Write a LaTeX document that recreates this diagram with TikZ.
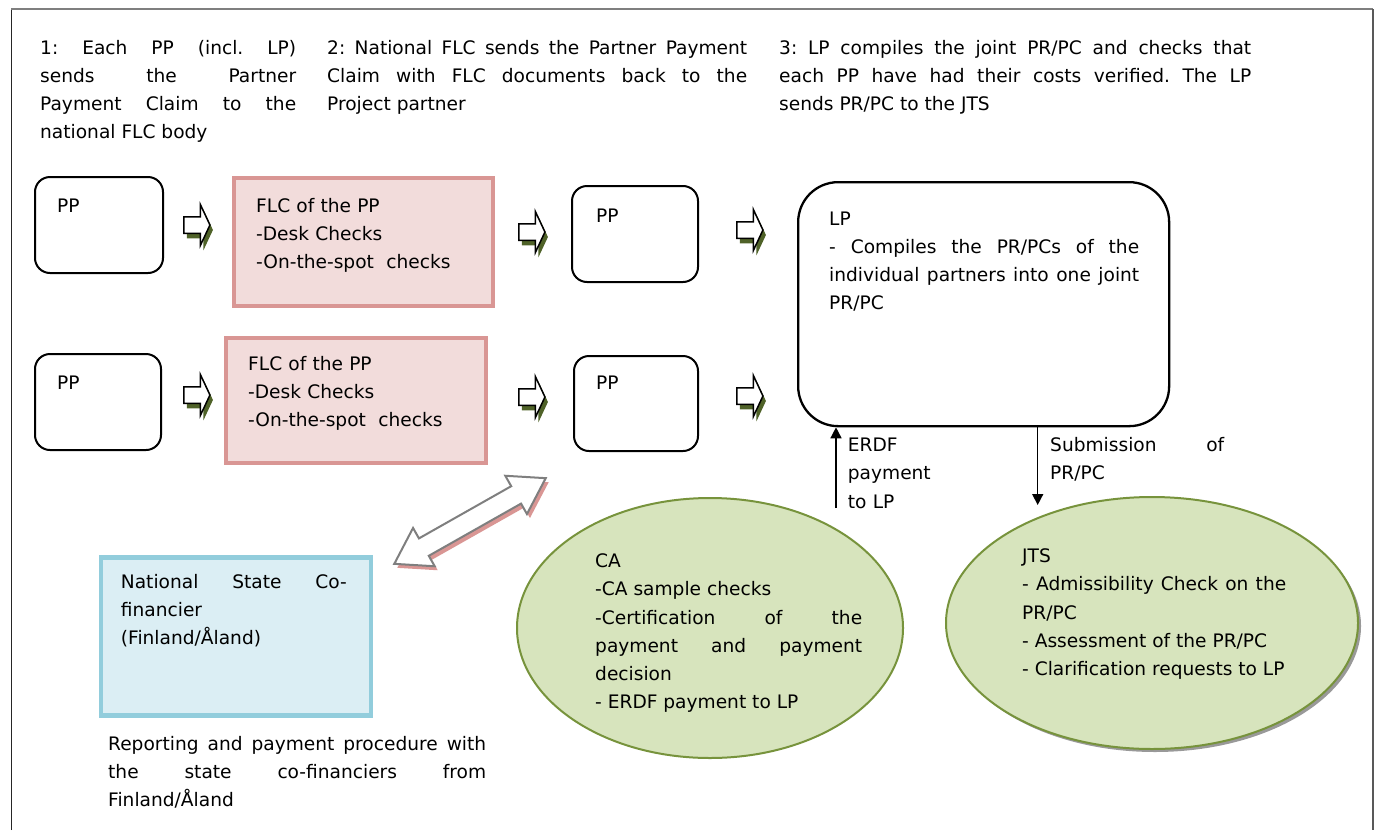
\documentclass[tikz,border=0pt]{standalone}
\usepackage{fontspec}
\setmainfont{DejaVu Sans}
\usepackage{tikz}
\usetikzlibrary{shapes.geometric,shapes.arrows,shadows,arrows.meta,calc}
\definecolor{flcFill}{HTML}{F2DCDB}
\definecolor{flcLine}{HTML}{D99694}
\definecolor{ncfFill}{HTML}{DBEEF4}
\definecolor{ncfLine}{HTML}{92CDDC}
\definecolor{caFill}{HTML}{D7E4BD}
\definecolor{caLine}{HTML}{77933C}
\definecolor{darkOlive}{HTML}{4F6228}
\definecolor{frameGray}{HTML}{7F7F7F}
\tolerance=10000 \hyphenpenalty=10000 \exhyphenpenalty=10000 \frenchspacing
\tikzset{
  ppbox/.style={draw,line width=2pt,rounded corners=15pt,inner sep=0pt,anchor=north west},
  flcbox/.style={draw=flcLine,fill=flcFill,line width=3.5pt,inner sep=0pt,anchor=north west},
  txt/.style={anchor=base west,inner sep=0pt,align=justify},
  flow/.style={single arrow,draw,line width=1.5pt,fill=white,inner sep=7.5pt,
    single arrow head extend=12pt,single arrow tip angle=130,minimum height=26pt,
    drop shadow={shadow xshift=3pt,shadow yshift=-5pt,fill=darkOlive,opacity=1}},
  blob/.style={ellipse,draw=caLine,fill=caFill,line width=2pt,inner sep=0pt},
  tip/.style={-{Triangle[length=11pt,width=11pt]},line width=1.5pt},
  linkarrow/.pic={
    \path[pic actions] (-87,0) -- (-53,-22) -- (-53,-10) -- (53,-10) -- (53,-22) -- (87,0)
      -- (53,22) -- (53,10) -- (-53,10) -- (-53,22) -- cycle;
  }
}
\begin{document}
\begin{tikzpicture}[x=1pt,y=-1pt,font=\fontsize{18.6}{28.2}\selectfont]
    \useasboundingbox (0,0) rectangle (1380,830);

    % frame
    \draw[black!85,line width=1pt] (11,830) -- (11,9);
    \draw[frameGray,line width=1.5pt] (11,9) -- (1373,9);
    \draw[black!65,line width=2pt] (1373,9) -- (1373,830);

    % the three steps
    \node[txt,text width=256pt] (stepOne) at (40,54) {1: Each PP (incl. LP)\linebreak sends the Partner\linebreak Payment Claim to the\linebreak national FLC body};
    \node[txt,text width=420pt] (stepTwo) at (327,54) {2: National FLC sends the Partner Payment\linebreak Claim with FLC documents back to the\linebreak Project partner};
    \node[txt,text width=472pt] (stepThree) at (779,54) {3: LP compiles the joint PR/PC and checks that\linebreak each PP have had their costs verified. The LP\linebreak sends PR/PC to the JTS};

    % upper row
    \node[ppbox,minimum width=128pt,minimum height=96pt] (ppA) at (34,176) {};
    \node[txt] (ppAlbl) at (57,212) {PP};
    \node[flcbox,minimum width=259pt,minimum height=128pt] (flcA) at (232,176) {};
    \node[txt,text width=230pt,align=left] (flcAlbl) at (256,212) {FLC of the PP\\-Desk Checks\\-On-the-spot~~checks};
    \node[ppbox,minimum width=126pt,minimum height=96pt] (ppB) at (571,185) {};
    \node[txt] (ppBlbl) at (596,222) {PP};
    \node[ppbox,rounded corners=40pt,line width=2.3pt,minimum width=371pt,minimum height=244pt] (lp) at (797,181) {};
    \node[txt,text width=310pt] (lpLbl) at (829,225) {LP\newline - Compiles the PR/PCs of the\linebreak individual partners into one joint\linebreak PR/PC};

    % lower row
    \node[ppbox,minimum width=126pt,minimum height=96pt] (ppC) at (34,353) {};
    \node[txt] (ppClbl) at (57,389) {PP};
    \node[flcbox,minimum width=260pt,minimum height=125pt] (flcB) at (224,336) {};
    \node[txt,text width=230pt,align=left] (flcBlbl) at (248,370) {FLC of the PP\\-Desk Checks\\-On-the-spot~~checks};
    \node[ppbox,minimum width=124pt,minimum height=95pt] (ppD) at (573,355) {};
    \node[txt] (ppDlbl) at (596,389) {PP};

    % block arrows between the steps
    \node[flow] (flowA) at (195,225) {};
    \node[flow] (flowB) at (530,232) {};
    \node[flow] (flowC) at (748,230) {};
    \node[flow] (flowD) at (195,395) {};
    \node[flow] (flowE) at (530,397) {};
    \node[flow] (flowF) at (748,396) {};

    % state co-financier
    \pic[fill=flcLine,rotate=29.5] (linkShadow) at (473,525) {linkarrow};
    \pic[draw=frameGray,line width=2pt,line join=miter,fill=white,rotate=29.5] (link) at (470,521) {linkarrow};
    \node[draw=ncfLine,fill=ncfFill,line width=4.5pt,inner sep=0pt,anchor=north west,
      minimum width=270pt,minimum height=158pt] (ncf) at (98.5,555) {};
    \node[txt,text width=226pt] (ncfLbl) at (120.7,588.3) {National State Co-\linebreak financier\newline (Finland/Åland)};
    \node[txt,text width=378pt] (note) at (108,750) {Reporting and payment procedure with\linebreak the state co-financiers from\linebreak Finland/Åland};

    % CA and JTS
    \node[blob,minimum width=386pt,minimum height=260pt] (ca) at (710,628) {};
    \node[txt,text width=267pt] (caLbl) at (595,567.7) {CA\newline -CA sample checks\newline -Certification of the\linebreak payment and payment\linebreak decision\newline - ERDF payment to LP};
    \node[blob,minimum width=412pt,minimum height=252pt,
      drop shadow={shadow xshift=3pt,shadow yshift=-3pt,fill=black!40,opacity=1}] (jts) at (1152,623) {};
    \node[txt,text width=264pt] (jtsLbl) at (1022,562.7) {JTS\newline - Admissibility Check on the\linebreak PR/PC\newline - Assessment of the PR/PC\newline - Clarification requests to LP};

    \coordinate (erdfFoot) at (836,508);
    \coordinate (jtsTop) at (1037.7,505);
    \draw[tip] (erdfFoot) -- (erdfFoot |- lp.south);
    \draw[tip] (jtsTop |- lp.south) -- (jtsTop);
    \node[txt,text width=90pt,align=left] (erdfLbl) at (847.7,451.7) {ERDF\\payment\\to LP};
    \node[txt,text width=174pt] (subLbl) at (1050,451.7) {Submission of\linebreak PR/PC};
\end{tikzpicture}
\end{document}
